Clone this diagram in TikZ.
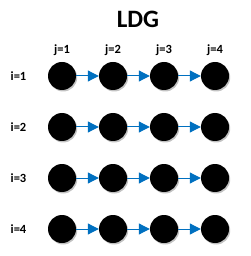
\documentclass[tikz,border=0pt]{standalone}
\usepackage{fontspec}
\setmainfont{Carlito}
\usetikzlibrary{shadows,arrows.meta}

\definecolor{azul}{RGB}{0,112,192}

\begin{document}
\begin{tikzpicture}[
    x=1pt, y=-1pt,
    % Estilo dos nós (círculos pretos com sombra)
    no/.style={circle, fill=black, minimum size=28pt, inner sep=0pt,
        drop shadow={shadow xshift=1.2pt, shadow yshift=-1.5pt, fill=black!40, opacity=0.6}},
    % Estilo das setas azuis
    seta/.style={-{Triangle[length=11pt, width=11pt]}, azul, line width=1pt},
    rotulo/.style={font=\bfseries\fontsize{12.5}{15}\selectfont}
]
    \useasboundingbox (0,0) rectangle (250,256);

    % Título
    \node[font=\bfseries\fontsize{25}{30}\selectfont] (titulo) at (138,19) {LDG};

    % Rótulos das colunas
    \foreach \j/\x in {1/62, 2/113, 3/164, 4/215}
        \node[rotulo] (j\j) at (\x,50) {j=\j};

    % Linhas de nós
    \foreach \i/\y in {1/76, 2/127, 3/178, 4/229} {
        \node[rotulo] (i\i) at (18.5,\y) {i=\i};
        \foreach \j/\x in {1/62, 2/113, 3/164, 4/215}
            \node[no] (n\i\j) at (\x,\y) {};
        \draw[seta] (n\i1) -- (n\i2);
        \draw[seta] (n\i2) -- (n\i3);
        \draw[seta] (n\i3) -- (n\i4);
    }

\end{tikzpicture}
\end{document}
